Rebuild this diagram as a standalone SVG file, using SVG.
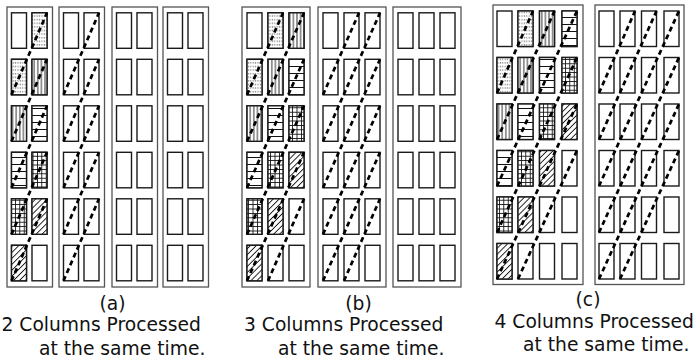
<svg xmlns="http://www.w3.org/2000/svg" xmlns:xlink="http://www.w3.org/1999/xlink" width="694" height="362" viewBox="0 0 694 362">
  <style>
    .box{fill:none;stroke:#555;stroke-width:1.3}
    .cell{fill:#fff;stroke:#1a1a1a;stroke-width:1.4}
    .dots{fill:url(#pDots)}
    .vert{fill:url(#pVert)}
    .horz{fill:url(#pHorz)}
    .grid{fill:url(#pGrid)}
    .hatch{fill:url(#pHatch)}
    .wave{fill:none;stroke:#000;stroke-width:2.7;stroke-dasharray:5 3.5}
    text{font-family:"DejaVu Sans","Liberation Sans",sans-serif;font-size:18.7px;fill:#111}
  </style>
  <defs>
    <pattern id="pDots" patternUnits="userSpaceOnUse" width="2.4" height="3.6">
      <rect width="2.4" height="3.6" fill="#fff"/>
      <rect x="0.6" y="1.2" width="1.1" height="1" fill="#444"/>
    </pattern>
    <pattern id="pVert" patternUnits="userSpaceOnUse" width="3.6" height="4">
      <rect width="3.6" height="4" fill="#fff"/>
      <line x1="1.8" y1="0" x2="1.8" y2="4" stroke="#111" stroke-width="0.9"/>
    </pattern>
    <pattern id="pHorz" patternUnits="userSpaceOnUse" width="4" height="7">
      <rect width="4" height="7" fill="#fff"/>
      <line x1="0" y1="3.5" x2="4" y2="3.5" stroke="#111" stroke-width="1"/>
    </pattern>
    <pattern id="pGrid" patternUnits="userSpaceOnUse" width="4.4" height="4.4">
      <rect width="4.4" height="4.4" fill="#fff"/>
      <line x1="2.2" y1="0" x2="2.2" y2="4.4" stroke="#111" stroke-width="0.9"/>
      <line x1="0" y1="2.2" x2="4.4" y2="2.2" stroke="#111" stroke-width="0.9"/>
    </pattern>
    <pattern id="pHatch" patternUnits="userSpaceOnUse" width="4.2" height="4.2" patternTransform="rotate(45)">
      <rect width="4.2" height="4.2" fill="#fff"/>
      <line x1="2.1" y1="0" x2="2.1" y2="4.2" stroke="#111" stroke-width="0.9"/>
    </pattern>
    <!-- one column of six blocks -->
    <g id="col">
      <rect class="cell" x="0" y="0" width="15" height="35.5"/>
      <rect class="cell" x="0" y="46.5" width="15" height="35.5"/>
      <rect class="cell" x="0" y="93" width="15" height="35.5"/>
      <rect class="cell" x="0" y="139.5" width="15" height="35.5"/>
      <rect class="cell" x="0" y="186" width="15" height="35.5"/>
      <rect class="cell" x="0" y="232.5" width="15" height="35.5"/>
    </g>
    <!-- processing waves, relative to the left edge of a box -->
    <g id="wavesA">
      <path class="wave" d="M4.5 94.8L40 12.8"/>
      <path class="wave" d="M4.5 141.3L40 59.3"/>
      <path class="wave" d="M4.5 187.8L40 105.8"/>
      <path class="wave" d="M4.5 234.3L40 152.3"/>
      <path class="wave" d="M4.5 280.8L40 198.8"/>
    </g>
    <g id="wavesB">
      <path class="wave" d="M5 94.8L41 12.8"/>
      <path class="wave" d="M5 141.3L62 12.8"/>
      <path class="wave" d="M5 187.8L62 59.3"/>
      <path class="wave" d="M5 234.3L62 105.8"/>
      <path class="wave" d="M5 280.8L62 152.3"/>
      <path class="wave" d="M26 280.8L62 198.8"/>
    </g>
    <g id="wavesC">
      <path class="wave" d="M4 93L40 11"/>
      <path class="wave" d="M4 139.5L61.5 11"/>
      <path class="wave" d="M4 186L84 11"/>
      <path class="wave" d="M4 232.5L84 57.5"/>
      <path class="wave" d="M4 279L84 104"/>
      <path class="wave" d="M25 279L84 150.5"/>
    </g>
  </defs>
  <rect width="694" height="362" fill="#fff"/>

  <!-- (a) two columns -->
  <g id="panel-a">
    <g id="a-box1">
      <rect class="box" x="7" y="7" width="45.5" height="280"/>
      <use xlink:href="#col" x="11.5" y="12.8"/>
      <use xlink:href="#col" x="32" y="12.8"/>
      <rect class="cell dots" x="32" y="12.8" width="15" height="35.5"/>
      <rect class="cell dots" x="11.5" y="59.3" width="15" height="35.5"/>
      <rect class="cell vert" x="32" y="59.3" width="15" height="35.5"/>
      <rect class="cell vert" x="11.5" y="105.8" width="15" height="35.5"/>
      <rect class="cell horz" x="32" y="105.8" width="15" height="35.5"/>
      <rect class="cell horz" x="11.5" y="152.3" width="15" height="35.5"/>
      <rect class="cell grid" x="32" y="152.3" width="15" height="35.5"/>
      <rect class="cell grid" x="11.5" y="198.8" width="15" height="35.5"/>
      <rect class="cell hatch" x="32" y="198.8" width="15" height="35.5"/>
      <rect class="cell hatch" x="11.5" y="245.3" width="15" height="35.5"/>
    </g>
    <g id="a-box2">
      <rect class="box" x="59" y="7" width="45.5" height="280"/>
      <use xlink:href="#col" x="63.5" y="12.8"/>
      <use xlink:href="#col" x="84" y="12.8"/>
    </g>
    <g id="a-box3">
      <rect class="box" x="112" y="7" width="45.5" height="280"/>
      <use xlink:href="#col" x="116.5" y="12.8"/>
      <use xlink:href="#col" x="137" y="12.8"/>
    </g>
    <g id="a-box4">
      <rect class="box" x="163" y="7" width="45.5" height="280"/>
      <use xlink:href="#col" x="167.5" y="12.8"/>
      <use xlink:href="#col" x="188" y="12.8"/>
    </g>
  </g>

  <!-- (b) three columns -->
  <g id="panel-b">
    <g id="b-box1">
      <rect class="box" x="242" y="7" width="68" height="280"/>
      <use xlink:href="#col" x="247" y="12.8"/>
      <use xlink:href="#col" x="268" y="12.8"/>
      <use xlink:href="#col" x="289" y="12.8"/>
      <rect class="cell dots" x="268" y="12.8" width="15" height="35.5"/>
      <rect class="cell dots" x="247" y="59.3" width="15" height="35.5"/>
      <rect class="cell vert" x="289" y="12.8" width="15" height="35.5"/>
      <rect class="cell vert" x="268" y="59.3" width="15" height="35.5"/>
      <rect class="cell vert" x="247" y="105.8" width="15" height="35.5"/>
      <rect class="cell horz" x="289" y="59.3" width="15" height="35.5"/>
      <rect class="cell horz" x="268" y="105.8" width="15" height="35.5"/>
      <rect class="cell horz" x="247" y="152.3" width="15" height="35.5"/>
      <rect class="cell grid" x="289" y="105.8" width="15" height="35.5"/>
      <rect class="cell grid" x="268" y="152.3" width="15" height="35.5"/>
      <rect class="cell grid" x="247" y="198.8" width="15" height="35.5"/>
      <rect class="cell hatch" x="289" y="152.3" width="15" height="35.5"/>
      <rect class="cell hatch" x="268" y="198.8" width="15" height="35.5"/>
      <rect class="cell hatch" x="247" y="245.3" width="15" height="35.5"/>
    </g>
    <g id="b-box2">
      <rect class="box" x="318" y="7" width="68" height="280"/>
      <use xlink:href="#col" x="323" y="12.8"/>
      <use xlink:href="#col" x="344" y="12.8"/>
      <use xlink:href="#col" x="365" y="12.8"/>
    </g>
    <g id="b-box3">
      <rect class="box" x="393" y="7" width="68" height="280"/>
      <use xlink:href="#col" x="398" y="12.8"/>
      <use xlink:href="#col" x="419" y="12.8"/>
      <use xlink:href="#col" x="440" y="12.8"/>
    </g>
  </g>

  <!-- (c) four columns -->
  <g id="panel-c">
    <g id="c-box1">
      <rect class="box" x="493" y="5" width="90" height="279.5"/>
      <use xlink:href="#col" x="497" y="11"/>
      <use xlink:href="#col" x="518" y="11"/>
      <use xlink:href="#col" x="539.5" y="11"/>
      <use xlink:href="#col" x="562" y="11"/>
      <rect class="cell dots" x="518" y="11" width="15" height="35.5"/>
      <rect class="cell dots" x="497" y="57.5" width="15" height="35.5"/>
      <rect class="cell vert" x="539.5" y="11" width="15" height="35.5"/>
      <rect class="cell vert" x="518" y="57.5" width="15" height="35.5"/>
      <rect class="cell vert" x="497" y="104" width="15" height="35.5"/>
      <rect class="cell horz" x="562" y="11" width="15" height="35.5"/>
      <rect class="cell horz" x="539.5" y="57.5" width="15" height="35.5"/>
      <rect class="cell horz" x="518" y="104" width="15" height="35.5"/>
      <rect class="cell horz" x="497" y="150.5" width="15" height="35.5"/>
      <rect class="cell grid" x="562" y="57.5" width="15" height="35.5"/>
      <rect class="cell grid" x="539.5" y="104" width="15" height="35.5"/>
      <rect class="cell grid" x="518" y="150.5" width="15" height="35.5"/>
      <rect class="cell grid" x="497" y="197" width="15" height="35.5"/>
      <rect class="cell hatch" x="562" y="104" width="15" height="35.5"/>
      <rect class="cell hatch" x="539.5" y="150.5" width="15" height="35.5"/>
      <rect class="cell hatch" x="518" y="197" width="15" height="35.5"/>
      <rect class="cell hatch" x="497" y="243.5" width="15" height="35.5"/>
    </g>
    <g id="c-box2">
      <rect class="box" x="595" y="5" width="89" height="279.5"/>
      <use xlink:href="#col" x="599" y="11"/>
      <use xlink:href="#col" x="620" y="11"/>
      <use xlink:href="#col" x="641.5" y="11"/>
      <use xlink:href="#col" x="664" y="11"/>
    </g>
  </g>

  <!-- dashed processing waves -->
  <g id="connectors">
    <use xlink:href="#wavesA" x="7"/>
    <use xlink:href="#wavesA" x="59"/>
    <use xlink:href="#wavesB" x="242"/>
    <use xlink:href="#wavesB" x="318"/>
    <use xlink:href="#wavesC" x="493"/>
    <use xlink:href="#wavesC" x="595"/>
  </g>

  <g id="captions">
    <text x="112.5" y="309.5" text-anchor="middle">(a)</text>
    <text x="1.5" y="331">2 Columns Processed</text>
    <text x="39" y="354.5">at the same time.</text>
    <text x="358.5" y="309.5" text-anchor="middle">(b)</text>
    <text x="244" y="331">3 Columns Processed</text>
    <text x="278" y="354.5">at the same time.</text>
    <text x="588" y="306" text-anchor="middle">(c)</text>
    <text x="494.5" y="327.5">4 Columns Processed</text>
    <text x="523" y="351">at the same time.</text>
  </g>
</svg>
